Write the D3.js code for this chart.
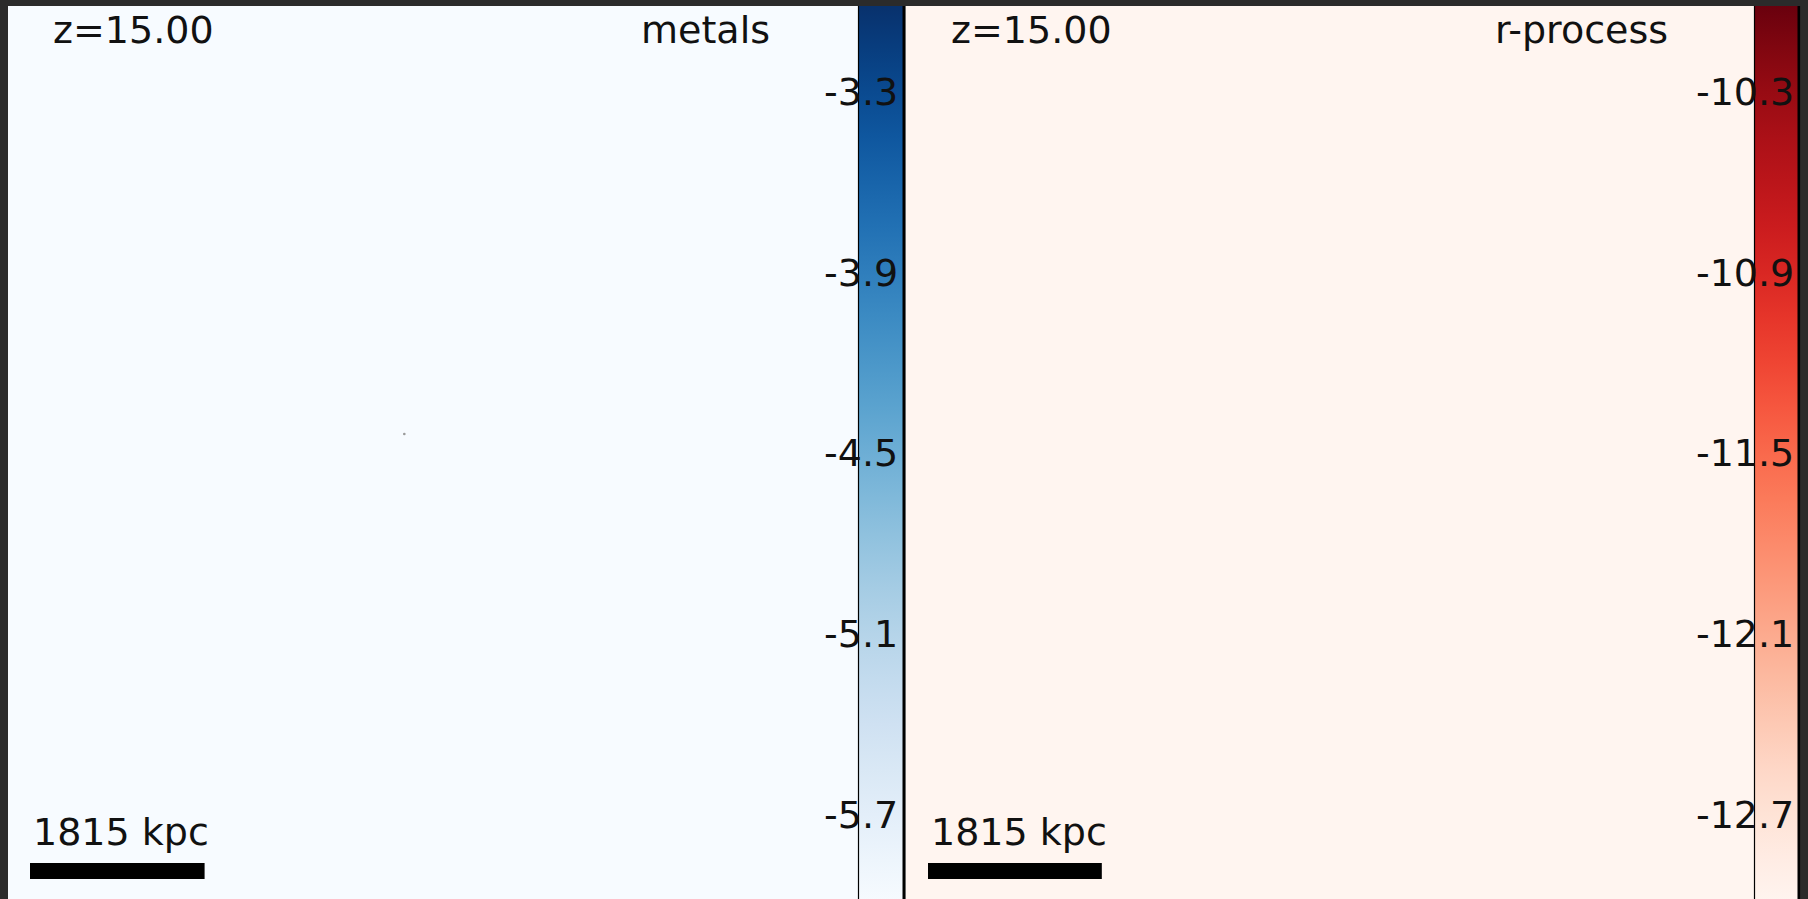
<!DOCTYPE html>
<html>
<head>
<meta charset="utf-8">
<script src="https://cdn.jsdelivr.net/npm/d3@7"></script>
<style>
  html, body { margin: 0; padding: 0; background: #2b2b2b; }
  svg { display: block; }
  text { font-family: "DejaVu Sans", sans-serif; fill: #111; }
</style>
</head>
<body>
<svg id="chart" width="1808" height="899"></svg>
<script>
// Field names and redshift of the snapshot
const fields = ["metals", "r-process"];
const redshift = 15.00;
// log10 abundance range of each colour bar (top, bottom)
const colorDomains = [[-3.0, -6.0], [-10.0, -13.0]];
// colour bar tick values
const colorTicks = [
  [-3.3, -3.9, -4.5, -5.1, -5.7],
  [-10.3, -10.9, -11.5, -12.1, -12.7]
];
// background (pristine gas) value of each projected field
const backgroundValues = [-6.0, -13.0];
// box side and scale bar length, kpc
const boxKpc = 9325;
const scaleBarKpc = 1815;
// enriched gas cells in the metals map: [x kpc, y kpc, log value]
const metalCells = [[4120, 4470, -5.6]];

const interps = [d3.interpolateBlues, d3.interpolateReds];

const svg = d3.select("#chart");
const panelTop = 6, H = 899 - panelTop;
const panels = [
  {x: 8, w: 897, cbX: 850, cbW: 46},
  {x: 906, w: 893, cbX: 848, cbW: 45}
];

panels.forEach((p, i) => {
  const g = svg.append("g").attr("transform", `translate(${p.x},${panelTop})`);
  const [hi, lo] = colorDomains[i];
  const color = d3.scaleSequential(interps[i]).domain([lo, hi]);

  // projected map
  const xs = d3.scaleLinear().domain([0, boxKpc]).range([0, p.w]);
  const ys = d3.scaleLinear().domain([0, boxKpc]).range([0, H]);
  g.append("rect").attr("x", 0).attr("y", 0).attr("width", p.w).attr("height", H)
    .attr("fill", color(backgroundValues[i]));
  if (i === 0) {
    g.selectAll("circle.cell").data(metalCells).join("circle")
      .attr("class", "cell")
      .attr("cx", d => xs(d[0])).attr("cy", d => ys(d[1])).attr("r", 1.3)
      .attr("fill", "#9a9a9a");
  }

  // colour bar inset at the right edge
  const cbX = p.cbX, cbW = p.cbW;
  const cy = d3.scaleLinear().domain([hi, lo]).range([-4.4, H + 6]);
  const gid = "grad" + i;
  const grad = svg.append("defs").append("linearGradient").attr("id", gid)
    .attr("gradientUnits", "userSpaceOnUse")
    .attr("x1", 0).attr("x2", 0).attr("y1", cy(hi)).attr("y2", cy(lo));
  d3.range(0, 1.0001, 0.05).forEach(t => {
    grad.append("stop").attr("offset", t).attr("stop-color", interps[i](1 - t));
  });
  g.append("rect").attr("x", cbX).attr("y", 0).attr("width", cbW).attr("height", H)
    .attr("fill", `url(#${gid})`);
  g.append("line").attr("x1", cbX + 0.5).attr("x2", cbX + 0.5).attr("y1", 0).attr("y2", H)
    .attr("stroke", "#000").attr("stroke-width", 1.2);
  g.append("line").attr("x1", cbX + cbW - 0.2).attr("x2", cbX + cbW - 0.2).attr("y1", 0).attr("y2", H)
    .attr("stroke", "#000").attr("stroke-width", 2.6);

  // tick labels, aligned on the decimal point just inside the bar edge
  const ticks = g.selectAll("text.tick").data(colorTicks[i]).join("text")
    .attr("class", "tick")
    .attr("y", d => cy(d))
    .attr("dominant-baseline", "central")
    .attr("font-size", 38)
    .text(d => d.toFixed(1));
  const probe = g.append("text").attr("font-size", 38).attr("visibility", "hidden");
  ticks.attr("x", function(d) {
    probe.text(d.toFixed(1).split(".")[0]);
    return cbX + 4 - probe.node().getComputedTextLength();
  });
  probe.remove();

  // labels
  g.append("text").attr("x", 45).attr("y", 37).attr("font-size", 38)
    .text("z=" + redshift.toFixed(2));
  g.append("text").attr("x", 762).attr("y", 37).attr("font-size", 38)
    .attr("text-anchor", "end").text(fields[i]);

  // scale bar
  const barLen = xs(scaleBarKpc) - xs(0);
  g.append("rect").attr("x", 22).attr("y", 857).attr("width", barLen).attr("height", 16)
    .attr("fill", "#000");
  g.append("text").attr("x", 25).attr("y", 839).attr("font-size", 38)
    .text(scaleBarKpc + " kpc");
});

// thin divider between panels
svg.append("line").attr("x1", 905.5).attr("x2", 905.5).attr("y1", panelTop).attr("y2", 899)
  .attr("stroke", "#6a6a6a").attr("stroke-width", 1);
</script>
</body>
</html>
